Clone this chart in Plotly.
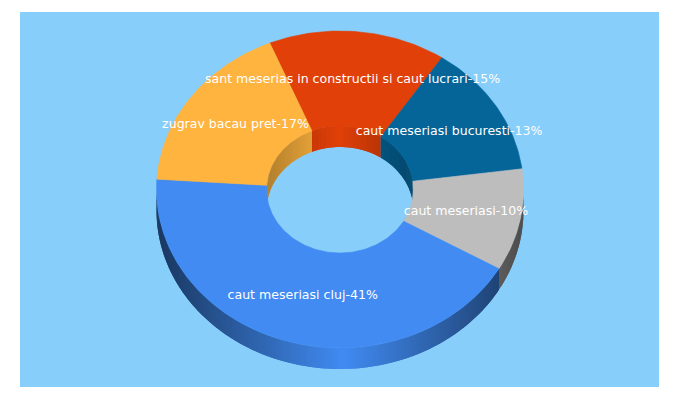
import math
import plotly.graph_objects as go

# data, clockwise from the top
names = ["sant meserias in constructii si caut lucrari", "caut meseriasi bucuresti", "caut meseriasi",
         "caut meseriasi cluj", "zugrav bacau pret"]
percents = [15, 13, 10, 41, 17]
colors = [(225, 64, 8), (5, 101, 152), (189, 189, 189), (65, 139, 242), (254, 180, 63)]

# donut geometry in page pixels
CX, CY = 340, 189.5
RX, RY = 183.5, 158.5
HX, HY = 73.5, 63.5
DEPTH = 21
START = 247.5
BG = "#87CEFA"


def pt(rx, ry, deg, dy=0):
    a = math.radians(deg)
    return CX + rx * math.cos(a), CY + ry * math.sin(a) + dy


def poly(points, color, width=0.6):
    xs = [p[0] for p in points] + [points[0][0]]
    ys = [p[1] for p in points] + [points[0][1]]
    return go.Scatter(x=xs, y=ys, mode="lines", fill="toself", fillcolor=color,
                      line=dict(color=color, width=width), hoverinfo="skip", showlegend=False)


def shade(rgb, f):
    return "rgb(%d,%d,%d)" % tuple(round(c * f) for c in rgb)


def wall(rx, ry, a0, a1, rgb, strength):
    # side wall cut into thin strips, darker towards the sides
    # each strip reaches back over the one before so no seams show
    out = []
    n = max(1, int((a1 - a0) / 1.0))
    step = (a1 - a0) / n
    for i in range(n):
        s = a0 + step * i
        e = s + step
        back = max(a0, s - step)
        f = 1 - strength * abs(math.cos(math.radians((s + e) / 2)))
        arc = [pt(rx, ry, back), pt(rx, ry, s), pt(rx, ry, e)]
        low = [pt(rx, ry, e, DEPTH), pt(rx, ry, s, DEPTH), pt(rx, ry, back, DEPTH)]
        out.append(poly(arc + low, shade(rgb, f), 0))
    return out


total = sum(percents)
spans = []
a = START
for p in percents:
    spans.append((a, a + p / total * 360))
    a += p / total * 360

fig = go.Figure()

# outer wall is seen on the front half, inner wall on the back half
for (a0, a1), c in zip(spans, colors):
    for shift in (-360, 0):
        s, e = max(a0 + shift, 0), min(a1 + shift, 180)
        if e > s:
            fig.add_traces(wall(RX, RY, s, e, c, 0.6))
        s, e = max(a0 + shift, 180), min(a1 + shift, 360)
        if e > s:
            fig.add_traces(wall(HX, HY, s, e, c, 0.3))

# top faces
for (a0, a1), c in zip(spans, colors):
    n = int(a1 - a0) + 2
    angles = [a0 + (a1 - a0) * i / n for i in range(n + 1)]
    points = [pt(RX, RY, t) for t in angles] + [pt(HX, HY, t) for t in reversed(angles)]
    fig.add_trace(poly(points, shade(c, 1)))

# labels sit in the middle of each ring sector
lx, ly, ltext = [], [], []
for (a0, a1), name, p in zip(spans, names, percents):
    x, y = pt((RX + HX) / 2, (RY + HY) / 2, (a0 + a1) / 2, 0.5)
    lx.append(x)
    ly.append(y)
    ltext.append("%s-%d%%" % (name, p))
fig.add_trace(go.Scatter(x=lx, y=ly, text=ltext, mode="text", textposition="middle center",
                         textfont=dict(family="DejaVu Sans", size=12.55, color="white"),
                         hoverinfo="skip", showlegend=False))

fig.update_layout(width=680, height=400, paper_bgcolor="white", plot_bgcolor=BG,
                  margin=dict(l=20, r=21, t=12, b=13),
                  xaxis=dict(range=[20, 659], visible=False),
                  yaxis=dict(range=[387, 12], visible=False))

fig.write_html("out.html", config={"displayModeBar": False},
               post_script="document.body.style.margin='0';")
